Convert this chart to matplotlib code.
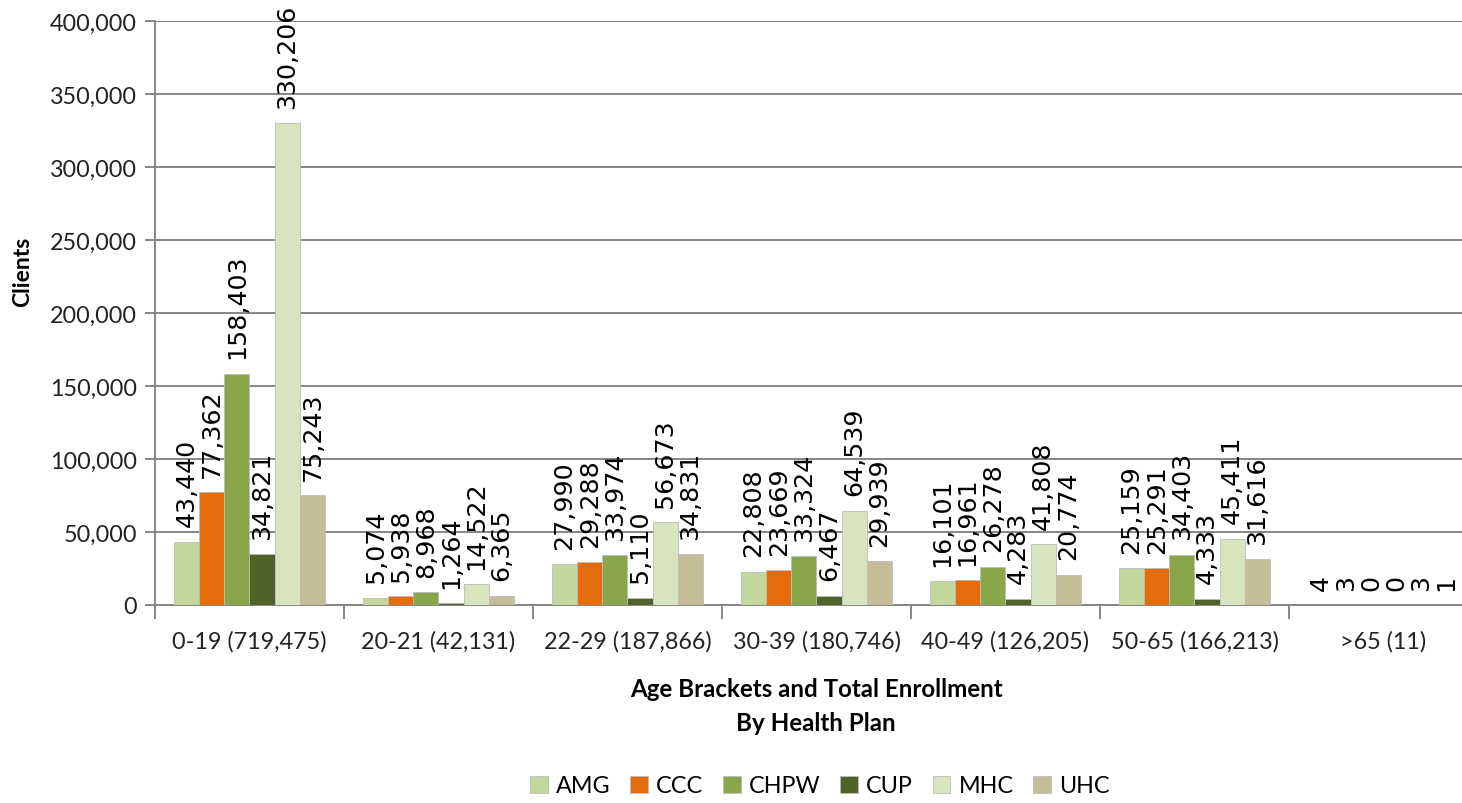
import matplotlib
matplotlib.use("Agg")
import matplotlib.pyplot as plt
import numpy as np
from matplotlib.ticker import FuncFormatter, FixedLocator, NullFormatter

categories = ["0-19 (719,475)", "20-21 (42,131)", "22-29 (187,866)", "30-39 (180,746)",
              "40-49 (126,205)", "50-65 (166,213)", ">65 (11)"]
plans = ["AMG", "CCC", "CHPW", "CUP", "MHC", "UHC"]
amg = [43440, 5074, 27990, 22808, 16101, 25159, 4]
ccc = [77362, 5938, 29288, 23669, 16961, 25291, 3]
chpw = [158403, 8968, 33974, 33324, 26278, 34403, 0]
cup = [34821, 1264, 5110, 6467, 4283, 4333, 0]
mhc = [330206, 14522, 56673, 64539, 41808, 45411, 3]
uhc = [75243, 6365, 34831, 29939, 20774, 31616, 1]
series = [amg, ccc, chpw, cup, mhc, uhc]
colors = ["#C3D69B", "#E46C0A", "#8AA64B", "#4F6228", "#D7E4BD", "#C4BD97"]

TICK_FONT = "Lato"
GRAY = "#868686"

fig = plt.figure(figsize=(14.62, 8.04), dpi=100)
ax = fig.add_axes([155/1462, 1-606/804, 1323/1462, 584/804])

n = len(categories)
x = np.arange(n)
bw = 0.1333
for i, (vals, c) in enumerate(zip(series, colors)):
    pos = x + (i - 2.5) * bw
    ax.bar(pos, vals, width=bw, color=c, edgecolor="#bdbdbd", linewidth=0.6,
           label=plans[i], zorder=3)
    for xp, v in zip(pos, vals):
        ax.annotate(f"{v:,}", xy=(xp, v), xytext=(0, 11), textcoords="offset points",
                    rotation=90, ha="center", va="bottom", fontsize=18.2,
                    family="DejaVu Sans", color="black", zorder=4)

ax.set_xlim(-0.5, n - 0.5)
ax.set_ylim(0, 400000)
ax.set_yticks(np.arange(0, 400001, 50000))
ax.yaxis.set_major_formatter(FuncFormatter(lambda v, p: f"{int(v):,}"))
ax.grid(axis="y", color=GRAY, linewidth=1.4, zorder=0)
ax.set_axisbelow(True)

ax.set_xticks(x)
ax.set_xticklabels(categories)
ax.xaxis.set_minor_locator(FixedLocator(np.arange(-0.5, n, 1.0)))
ax.xaxis.set_minor_formatter(NullFormatter())
ax.tick_params(axis="x", which="major", length=0, pad=18)
ax.tick_params(axis="x", which="minor", length=10, width=1.4, color=GRAY, direction="out")
ax.tick_params(axis="y", length=7, width=1.4, color=GRAY, direction="out", pad=6)
for lab in ax.get_xticklabels() + ax.get_yticklabels():
    lab.set_family(TICK_FONT)
    lab.set_fontsize(16.8)
    lab.set_color("#222222")

for s in ["top", "right"]:
    ax.spines[s].set_visible(False)
for s in ["left", "bottom"]:
    ax.spines[s].set_color(GRAY)
    ax.spines[s].set_linewidth(1.4)

ax.set_ylabel("Clients", family=TICK_FONT, fontweight="bold", fontsize=16.5)
ax.yaxis.set_label_coords(-0.092, 0.572)

fig.text(816/1462, 1-690/804, "Age Brackets and Total Enrollment", ha="center", va="center",
         family=TICK_FONT, fontweight="bold", fontsize=17.4)
fig.text(816/1462, 1-724/804, "By Health Plan", ha="center", va="center",
         family=TICK_FONT, fontweight="bold", fontsize=17.4)

fig.legend(loc="center", bbox_to_anchor=(820/1462, 1-787/804), ncol=6, frameon=False,
           handlelength=0.75, handleheight=0.75, handletextpad=0.35, columnspacing=0.85,
           prop={"family": TICK_FONT, "size": 16.8})

fig.savefig("out.png", dpi=100)
